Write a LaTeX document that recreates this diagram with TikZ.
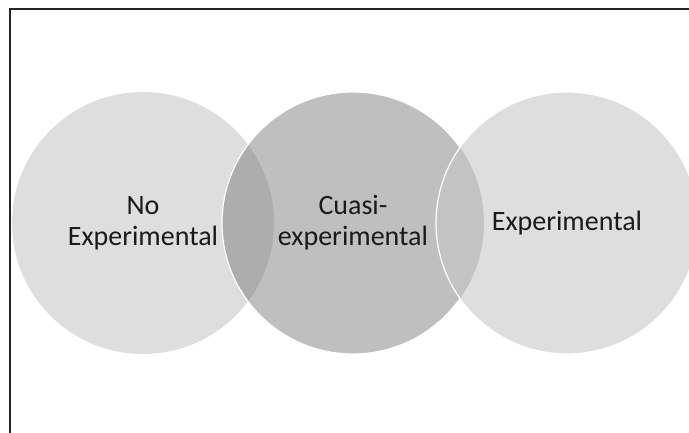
\documentclass[tikz,border=0pt]{standalone}
\usepackage{fontspec}
\setmainfont{Carlito}
\usepackage{xcolor}

\definecolor{setlight}{HTML}{DEDEDE}
\definecolor{setmid}{HTML}{BFBFBF}
\definecolor{lensleft}{HTML}{ADADAD}
\definecolor{lensright}{HTML}{C3C3C3}
\definecolor{textgray}{HTML}{1A1A1A}

\begin{document}
\begin{tikzpicture}[x=1pt,y=-1pt,
    set/.style={circle, minimum size=262pt, inner sep=0pt, draw=none,
      text=textgray, align=center, font=\fontsize{28}{31}\selectfont},
    rim/.style={draw=white, line width=1.2pt}]
  \useasboundingbox (0,0) rectangle (689,433);

  % frame
  \coordinate (TL) at (10,9);
  \coordinate (TR) at (689,9);
  \coordinate (BL) at (10,433);
  \draw[line width=1.3pt, black!85] (TR) -- (TL) -- (BL);

  \node[set, fill=setlight] (noexp) at (143,223) {No\\Experimental};
  \node[set, fill=setmid] (cuasi) at (353,223) {};

  \begin{scope}
    \clip (cuasi.center) circle[radius=131pt];
    \fill[lensleft] (noexp.center) circle[radius=131pt];
  \end{scope}
  \draw[rim] (cuasi.center) circle[radius=131pt];
  \node[set] at (cuasi) {Cuasi-\\experimental};

  \node[set, fill=setlight] (exp) at (567,223) {};
  \begin{scope}
    \clip (exp.center) circle[radius=131pt];
    \fill[lensright] (cuasi.center) circle[radius=131pt];
  \end{scope}
  \draw[rim] (exp.center) circle[radius=131pt];
  \node[set] at (exp) {Experimental};
\end{tikzpicture}
\end{document}
